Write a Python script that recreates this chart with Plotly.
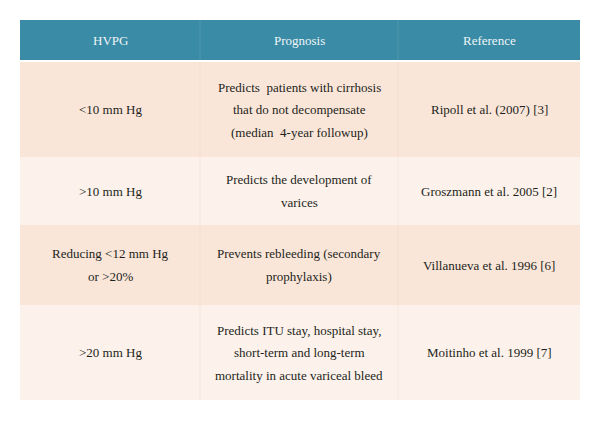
import plotly.graph_objects as go

# ---- data ----
headers = ["HVPG", "Prognosis", "Reference"]
hvpg = ["<10 mm Hg", ">10 mm Hg", "Reducing <12 mm Hg<br>or >20%", ">20 mm Hg"]
prognosis = [
    "Predicts  patients with cirrhosis<br>that do not decompensate<br>(median  4-year followup)",
    "Predicts the development of<br>varices",
    "Prevents rebleeding (secondary<br>prophylaxis)",
    "Predicts ITU stay, hospital stay,<br>short-term and long-term<br>mortality in acute variceal bleed",
]
reference = [
    "Ripoll et al. (2007) [3]",
    "Groszmann et al. 2005 [2]",
    "Villanueva et al. 1996 [6]",
    "Moitinho et al. 1999 [7]",
]

# ---- layout (positions / styles) ----
col_edges = [20, 200, 398, 580]
header_top, header_bot = 20, 60
row_edges = [62, 157, 225, 305, 400]
header_color = "#3A8BA5"
row_colors = ["#FAE6D9", "#FCF2EB"]
text_color = "#231F20"
font_family = "Liberation Serif"
font_size = 13
line_gap = 22.5
page_offset = 8  # default body margin of the html page

fig = go.Figure()
shapes = []
annotations = []

# header background
shapes.append(dict(type="rect", xref="x", yref="y", x0=col_edges[0], x1=col_edges[-1],
                   y0=header_top, y1=header_bot, fillcolor=header_color, line_width=0, layer="below"))
for xe in col_edges[1:-1]:
    shapes.append(dict(type="line", xref="x", yref="y", x0=xe, x1=xe, y0=header_top, y1=header_bot,
                       line=dict(color="rgba(255,255,255,0.12)", width=1)))

for j, h in enumerate(headers):
    annotations.append(dict(x=(col_edges[j] + col_edges[j + 1]) / 2, y=(header_top + header_bot) / 2,
                            xref="x", yref="y", text=h, showarrow=False,
                            font=dict(family=font_family, size=font_size, color="#EEF5F7")))

columns = [hvpg, prognosis, reference]
for i in range(len(hvpg)):
    y0, y1 = row_edges[i], row_edges[i + 1]
    shapes.append(dict(type="rect", xref="x", yref="y", x0=col_edges[0], x1=col_edges[-1],
                       y0=y0, y1=y1, fillcolor=row_colors[i % 2], line_width=0, layer="below"))
    for xe in col_edges[1:-1]:
        shapes.append(dict(type="line", xref="x", yref="y", x0=xe, x1=xe, y0=y0, y1=y1,
                           line=dict(color="rgba(210,180,160,0.15)", width=1)))
    cy = (y0 + y1) / 2
    for j, col in enumerate(columns):
        lines = col[i].split("<br>")
        n = len(lines)
        cx = (col_edges[j] + col_edges[j + 1]) / 2
        for k, ln in enumerate(lines):
            annotations.append(dict(x=cx, y=cy + (k - (n - 1) / 2) * line_gap, xref="x", yref="y",
                                    text=ln, showarrow=False,
                                    font=dict(family=font_family, size=font_size, color=text_color)))

fig.update_layout(
    width=600, height=421,
    margin=dict(l=0, r=0, t=0, b=0),
    paper_bgcolor="white", plot_bgcolor="white",
    xaxis=dict(range=[page_offset, 600 + page_offset], visible=False, fixedrange=True),
    yaxis=dict(range=[421 + page_offset, page_offset], visible=False, fixedrange=True),
    shapes=shapes, annotations=annotations, showlegend=False,
)
fig.write_html("out.html")
